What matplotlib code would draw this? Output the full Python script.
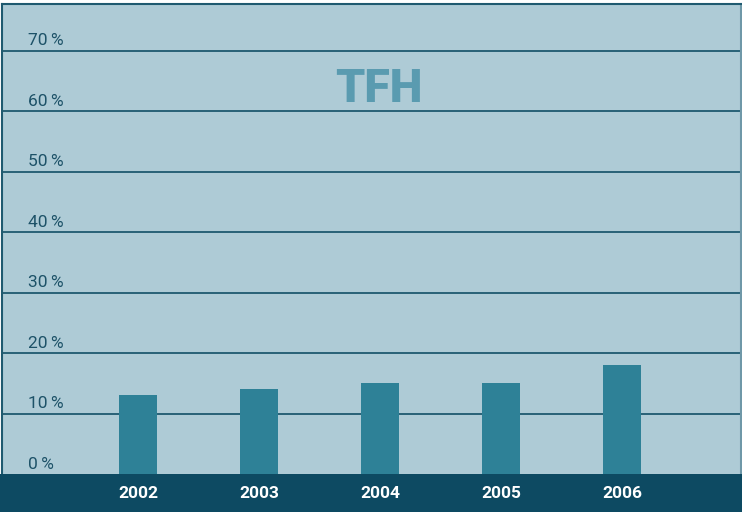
import matplotlib
matplotlib.use("Agg")
import matplotlib.pyplot as plt
from matplotlib.patches import Rectangle

years = ["2002", "2003", "2004", "2005", "2006"]
share = [13, 14, 15, 15, 18]
ticks = [0, 10, 20, 30, 40, 50, 60, 70]
tick_labels = ["0\u2009%", "10\u2009%", "20\u2009%", "30\u2009%", "40\u2009%",
               "50\u2009%", "60\u2009%", "70\u2009%"]

bg = "#aecbd6"
grid_col = "#1f5a70"
bar_col = "#2e8197"
band_col = "#0d4a62"
label_col = "#1d5268"

plt.rcParams["font.family"] = ["Roboto", "DejaVu Sans"]

W, H = 742, 512
fig = plt.figure(figsize=(W / 100, H / 100), dpi=100)
fig.patch.set_facecolor("white")

# dark band along the bottom
fig.patches.append(Rectangle((0, 0), 1, 38 / H, transform=fig.transFigure,
                             facecolor=band_col, edgecolor="none", zorder=0))

ax = fig.add_axes([2 / W, 38 / H, 739 / W, 470 / H])
ax.set_facecolor(bg)
x = list(range(len(years)))
ax.bar(x, share, width=0.314, color=bar_col, zorder=3)
ax.set_xlim(-1.124, 4.98)
ax.set_ylim(0, 77.7)

for t in ticks[1:]:
    ax.axhline(t, color=grid_col, lw=1.3, zorder=2)
for t, lab in zip(ticks, tick_labels):
    ax.text(-0.91, t + 0.4, lab, ha="left", va="bottom", color=label_col,
            fontsize=12.5, zorder=4)

for spine in ax.spines.values():
    spine.set_color(grid_col)
    spine.set_linewidth(1.5)
ax.spines["right"].set_color("#6f98a8")
ax.spines["bottom"].set_visible(False)
ax.set_xticks([])
ax.set_yticks([])

ax.text(1.99, 63.7, "TFH", ha="center", va="center", color="#5a9bb0",
        fontsize=33.5, fontweight="black", zorder=4)

# year labels in the band
for xi, yr in zip(x, years):
    xf = (2 + (xi + 1.124) / (4.98 + 1.124) * 739) / W
    fig.text(xf, 18.5 / H, yr, ha="center", va="center", color="white",
             fontsize=12.5, fontweight="bold")

fig.savefig("out.png", dpi=100, facecolor=fig.get_facecolor())
